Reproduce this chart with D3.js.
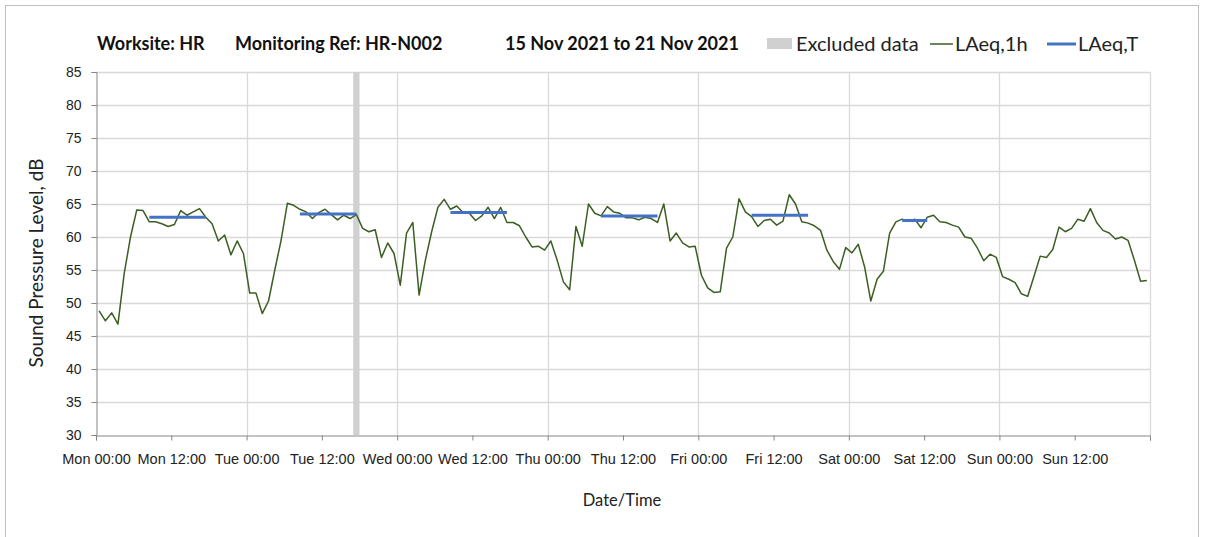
<!DOCTYPE html>
<html><head><meta charset="utf-8">
<script src="https://cdn.jsdelivr.net/npm/d3@7"></script>
<style>
html,body{margin:0;padding:0;background:#fff;}
svg{display:block;font-family:"Lato","Open Sans",sans-serif;}
</style></head>
<body>
<svg id="chart" width="1208" height="537"></svg>
<script>
// ---- data ----
const dayNames = ["Mon","Tue","Wed","Thu","Fri","Sat","Sun"];
const tickHours = [0,12,24,36,48,60,72,84,96,108,120,132,144,156,168];
const yTicks = [30,35,40,45,50,55,60,65,70,75,80,85];
// hourly LAeq,1h values, Mon 00:00 .. Sun 23:00
const laeq1h = [
 48.8,47.3,48.5,46.8,54.5,60.0,64.1,64.0,62.3,62.3,62.0,61.6,61.9,64.0,63.3,63.8,64.3,63.0,62.0,59.4,60.3,57.3,59.4,57.5,
 51.5,51.5,48.4,50.3,55.0,59.5,65.1,64.8,64.2,63.8,62.8,63.7,64.2,63.4,62.6,63.3,62.8,63.4,61.3,60.8,61.1,56.9,59.1,57.5,
 52.7,60.6,62.2,51.2,56.5,60.8,64.5,65.7,64.2,64.7,63.7,63.6,62.5,63.2,64.5,62.8,64.5,62.2,62.2,61.7,60.0,58.5,58.6,58.0,
 59.4,56.5,53.2,52.0,61.6,58.6,65.0,63.6,63.2,64.6,63.8,63.6,62.9,62.9,62.6,63.0,62.8,62.2,65.0,59.4,60.6,59.1,58.5,58.6,
 54.2,52.3,51.6,51.7,58.3,60.0,65.8,63.8,63.1,61.6,62.5,62.7,61.8,62.4,66.4,65.0,62.3,62.1,61.7,61.0,58.0,56.3,55.1,58.4,
 57.6,58.9,55.5,50.3,53.6,54.8,60.6,62.3,62.7,62.4,62.7,61.4,63.0,63.3,62.3,62.2,61.8,61.5,60.0,59.8,58.3,56.4,57.4,56.9,
 54.0,53.6,53.1,51.4,51.0,54.0,57.1,56.9,58.1,61.5,60.8,61.3,62.7,62.4,64.3,62.2,61.0,60.6,59.7,60.0,59.5,56.5,53.3,53.4
];
// LAeq,T periods (hour index from Mon 00:00)
const tStart = [8,32,56,80,104,128];
const tEnd   = [17,41,65,89,113,132];
const tValue = [63.0,63.5,63.7,63.2,63.3,62.5];
// excluded hours
const excludedHours = [41];

// ---- layout ----
const svg = d3.select("#chart");
const L = 96, R = 1150, T = 72, B = 435;
const x = d3.scaleLinear().domain([0,168]).range([L,R]);
const y = d3.scaleLinear().domain([30,85]).range([B,T]);

// outer border
svg.append("rect").attr("x",5.5).attr("y",5.5).attr("width",1193).attr("height",545)
  .attr("fill","none").attr("stroke","#bfbfbf").attr("stroke-width",1);

// horizontal gridlines
svg.append("g").selectAll("line").data(yTicks.filter(d=>d>30)).join("line")
  .attr("x1",L).attr("x2",R).attr("y1",d=>Math.round(y(d))+0.5).attr("y2",d=>Math.round(y(d))+0.5)
  .attr("stroke","#d9d9d9").attr("stroke-width",1.3);
// vertical gridlines at each day
svg.append("g").selectAll("line").data(d3.range(24,169,24)).join("line")
  .attr("y1",T).attr("y2",B).attr("x1",d=>Math.round(x(d))+0.5).attr("x2",d=>Math.round(x(d))+0.5)
  .attr("stroke","#d9d9d9").attr("stroke-width",1.3);

// excluded data
svg.append("g").selectAll("rect").data(excludedHours).join("rect")
  .attr("x",d=>x(d)).attr("width",d=>x(d+1)-x(d)).attr("y",T).attr("height",B-T)
  .attr("fill","#d0d0d0");

// axes
const yAxis = d3.axisLeft(y).tickValues(yTicks).tickSize(5).tickPadding(10).tickFormat(d3.format("d"));
const gy = svg.append("g").attr("transform",`translate(${L+0.5},0)`).call(yAxis);
gy.select(".domain").attr("stroke","#868686");
gy.selectAll(".tick line").attr("stroke","#868686");
gy.selectAll("text").attr("font-size",14).attr("fill","#222");

const xAxis = d3.axisBottom(x).tickValues(tickHours).tickSize(5).tickPadding(13)
  .tickFormat(d => d>=168 ? "" : dayNames[Math.floor(d/24)] + (d%24===0 ? " 00:00" : " 12:00"));
const gx = svg.append("g").attr("transform",`translate(0,${B+0.5})`).call(xAxis);
gx.select(".domain").attr("stroke","#868686");
gx.selectAll(".tick line").attr("stroke","#868686");
gx.selectAll("text").attr("font-size",14.5).attr("fill","#222");

// LAeq,1h line
const line = d3.line().x((d,i)=>x(i+0.5)).y(d=>y(d));
svg.append("path").datum(laeq1h).attr("d",line)
  .attr("fill","none").attr("stroke","#3b5e22").attr("stroke-width",1.5).attr("stroke-linejoin","round");

// LAeq,T segments
svg.append("g").selectAll("line").data(tValue).join("line")
  .attr("x1",(d,i)=>x(tStart[i]+0.5)).attr("x2",(d,i)=>x(tEnd[i]+0.5))
  .attr("y1",d=>y(d)).attr("y2",d=>y(d))
  .attr("stroke","#4472c4").attr("stroke-width",3);

// title
const title = svg.append("text").attr("y",50).attr("font-size",18).attr("font-weight","bold").attr("fill","#111");
title.append("tspan").attr("x",97).text("Worksite: HR");
title.append("tspan").attr("x",235).text("Monitoring Ref: HR-N002");
title.append("tspan").attr("x",505).text("15 Nov 2021 to 21 Nov 2021");

// legend
const lg = svg.append("g").attr("font-size",20).attr("fill","#222");
lg.append("rect").attr("x",767).attr("y",38).attr("width",25).attr("height",11).attr("fill","#d0d0d0");
lg.append("text").attr("x",796).attr("y",51).text("Excluded data");
lg.append("line").attr("x1",930).attr("x2",953).attr("y1",44).attr("y2",44).attr("stroke","#3b5e22").attr("stroke-width",1.5);
lg.append("text").attr("x",955).attr("y",51).text("LAeq,1h");
lg.append("line").attr("x1",1047).attr("x2",1076).attr("y1",44).attr("y2",44).attr("stroke","#4472c4").attr("stroke-width",3);
lg.append("text").attr("x",1078).attr("y",51).text("LAeq,T");

// axis titles
svg.append("text").attr("transform","translate(43,263) rotate(-90)").attr("text-anchor","middle")
  .attr("font-size",19).attr("fill","#222").text("Sound Pressure Level, dB");
svg.append("text").attr("x",622).attr("y",506).attr("text-anchor","middle")
  .attr("font-size",16.5).attr("fill","#222").text("Date/Time");
</script>
</body></html>
